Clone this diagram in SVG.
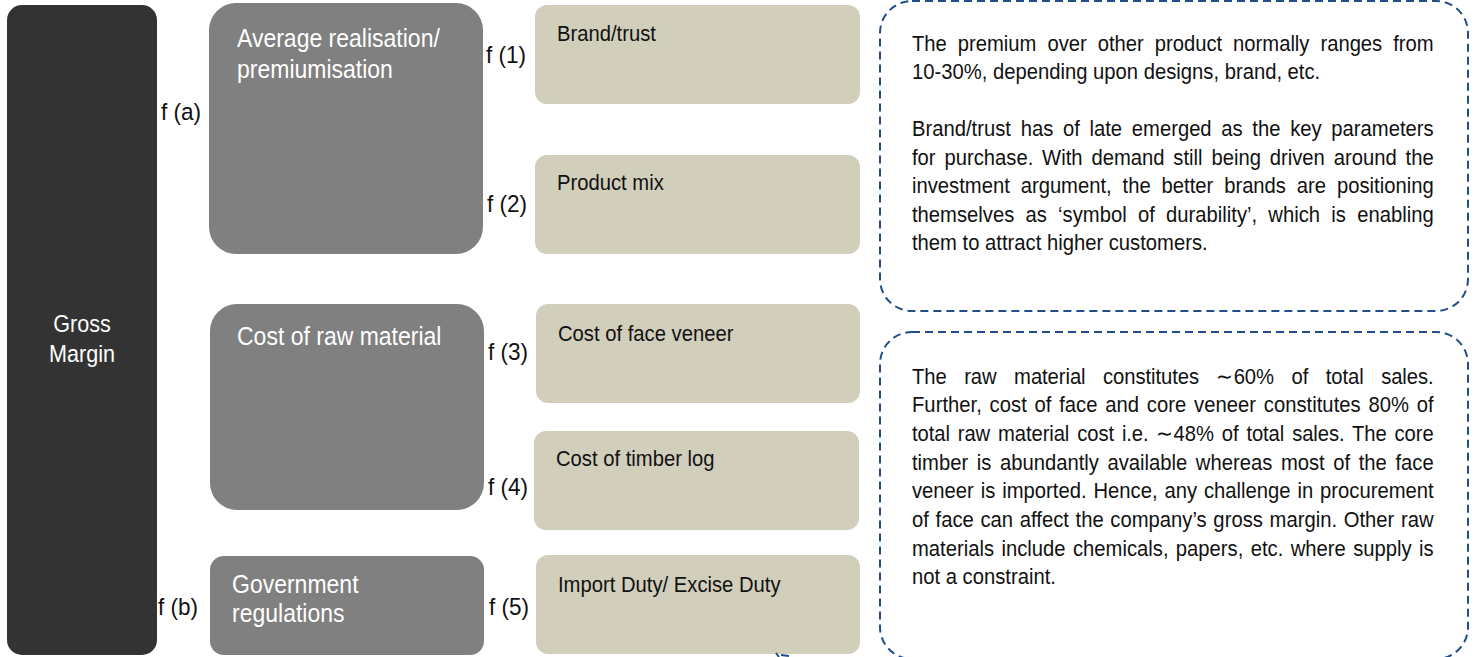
<svg xmlns="http://www.w3.org/2000/svg" width="1475" height="657" viewBox="0 0 1475 657">
<style>
text{font-family:"Liberation Sans",Arial,sans-serif;}
.dark{fill:#333333;}
.grey{fill:#808080;}
.tan{fill:#d1cebb;}
.wl{fill:#ffffff;font-size:25px;}
.gm{fill:#ffffff;font-size:23.5px;text-anchor:middle;}
.tl{fill:#111111;font-size:22px;}
.fl{fill:#111111;font-size:24.5px;}
.para{fill:#111111;font-size:22px;}
.dash{fill:none;stroke:#1f4e89;stroke-width:2;stroke-dasharray:8 5;}
</style>
<rect width="1475" height="657" fill="#ffffff"/>

<g id="gross-margin">
<rect class="dark" x="7" y="5" width="150" height="650" rx="15"/>
<text class="gm" transform="translate(82 332) scale(0.92 1)">Gross</text>
<text class="gm" transform="translate(82 362) scale(0.92 1)">Margin</text>
</g>

<g id="avg-realisation">
<rect class="grey" x="209" y="3" width="274" height="251" rx="27"/>
<text class="wl" transform="translate(237 47) scale(0.92 1)">Average realisation/</text>
<text class="wl" transform="translate(237 78) scale(0.92 1)">premiumisation</text>
</g>

<g id="cost-raw-material">
<rect class="grey" x="210" y="304" width="274" height="206" rx="27"/>
<text class="wl" transform="translate(237 345) scale(0.92 1)">Cost of raw material</text>
</g>

<g id="govt-regulations">
<rect class="grey" x="210" y="556" width="274" height="99" rx="14"/>
<text class="wl" transform="translate(232 593) scale(0.92 1)">Government</text>
<text class="wl" transform="translate(232 622) scale(0.92 1)">regulations</text>
</g>

<g id="brand-trust">
<rect class="tan" x="535" y="5" width="325" height="99" rx="12"/>
<text class="tl" transform="translate(557 41) scale(0.92 1)">Brand/trust</text>
</g>
<g id="product-mix">
<rect class="tan" x="535" y="155" width="325" height="99" rx="12"/>
<text class="tl" transform="translate(557 190) scale(0.92 1)">Product mix</text>
</g>
<g id="face-veneer">
<rect class="tan" x="536" y="304" width="324" height="99" rx="12"/>
<text class="tl" transform="translate(558 341) scale(0.92 1)">Cost of face veneer</text>
</g>
<g id="timber-log">
<rect class="tan" x="534" y="431" width="325" height="99" rx="12"/>
<text class="tl" transform="translate(556 466) scale(0.92 1)">Cost of timber log</text>
</g>
<g id="import-duty">
<rect class="tan" x="536" y="555" width="324" height="99" rx="12"/>
<text class="tl" transform="translate(558 592) scale(0.92 1)">Import Duty/ Excise Duty</text>
</g>

<g id="labels">
<text class="fl" transform="translate(161 120) scale(0.92 1)">f (a)</text>
<text class="fl" transform="translate(158 615) scale(0.92 1)">f (b)</text>
<text class="fl" transform="translate(486 63) scale(0.92 1)">f (1)</text>
<text class="fl" transform="translate(487 212) scale(0.92 1)">f (2)</text>
<text class="fl" transform="translate(488 360) scale(0.92 1)">f (3)</text>
<text class="fl" transform="translate(488 495) scale(0.92 1)">f (4)</text>
<text class="fl" transform="translate(489 615) scale(0.92 1)">f (5)</text>
</g>

<g id="note-premium">
<rect class="dash" x="880" y="1" width="588" height="310" rx="32"/>
<g transform="translate(912 0) scale(0.92 1)">
<text class="para" x="0" y="51" word-spacing="5.8" textLength="567" lengthAdjust="spacing">The premium over other product normally ranges from</text>
<text class="para" x="0" y="79">10-30%, depending upon designs, brand, etc.</text>
<text class="para" x="0" y="136" word-spacing="4.4" textLength="567" lengthAdjust="spacing">Brand/trust has of late emerged as the key parameters</text>
<text class="para" x="0" y="165" word-spacing="3.5" textLength="567" lengthAdjust="spacing">for purchase. With demand still being driven around the</text>
<text class="para" x="0" y="193" word-spacing="5.7" textLength="567" lengthAdjust="spacing">investment argument, the better brands are positioning</text>
<text class="para" x="0" y="222" word-spacing="6.1" textLength="567" lengthAdjust="spacing">themselves as ‘symbol of durability’, which is enabling</text>
<text class="para" x="0" y="250">them to attract higher customers.</text>
</g>
</g>

<g id="note-raw-material">
<rect class="dash" x="880" y="332" width="588" height="327" rx="32"/>
<g transform="translate(912 0) scale(0.92 1)">
<text class="para" x="0" y="384" word-spacing="13" textLength="567" lengthAdjust="spacing">The raw material constitutes ∼60% of total sales.</text>
<text class="para" x="0" y="412" word-spacing="2.3" textLength="567" lengthAdjust="spacing">Further, cost of face and core veneer constitutes 80% of</text>
<text class="para" x="0" y="441" word-spacing="2.6" textLength="567" lengthAdjust="spacing">total raw material cost i.e. ∼48% of total sales. The core</text>
<text class="para" x="0" y="470" word-spacing="3.2" textLength="567" lengthAdjust="spacing">timber is abundantly available whereas most of the face</text>
<text class="para" x="0" y="498" word-spacing="1.4" textLength="567" lengthAdjust="spacing">veneer is imported. Hence, any challenge in procurement</text>
<text class="para" x="0" y="527" word-spacing="1.1" textLength="567" lengthAdjust="spacing">of face can affect the company’s gross margin. Other raw</text>
<text class="para" x="0" y="556" word-spacing="1.9" textLength="567" lengthAdjust="spacing">materials include chemicals, papers, etc. where supply is</text>
<text class="para" x="0" y="584">not a constraint.</text>
</g>
</g>

<g id="connectors">
<path d="M776 653 L779 657 M781 655 L789 656" fill="none" stroke="#1f4e89" stroke-width="2"/>
</g>
</svg>
